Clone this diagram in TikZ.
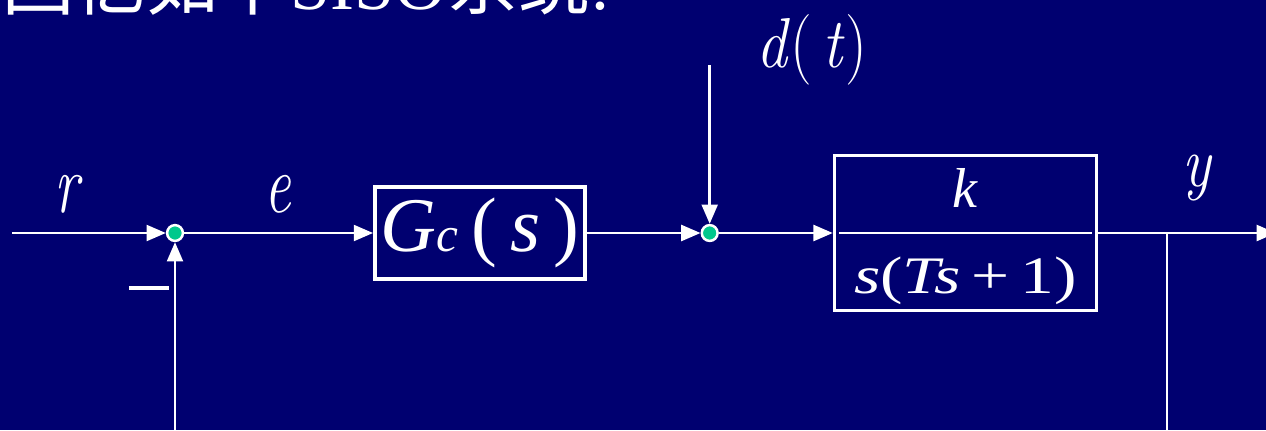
\documentclass[tikz,border=0pt]{standalone}
\usepackage{graphicx}
\usepackage{fontspec}
\newfontfamily\cjk{Noto Sans CJK SC}
\newfontfamily\tnr{Liberation Serif}
\usetikzlibrary{positioning, arrows.meta}
\definecolor{slidebg}{RGB}{0,0,112}
\definecolor{sumgreen}{RGB}{0,200,140}

\begin{document}
\begin{tikzpicture}[
		x=0.02cm, y=-0.02cm,
		% Define styles
		wire/.style={white, line width=1.6pt},
		arr/.style={wire, -{Triangle[length=11pt,width=9pt]}},
		sumpt/.style={circle, draw=white, line width=1.4pt, fill=sumgreen, minimum size=9pt, inner sep=0pt},
		block/.style={draw=white, line width=2pt, inner sep=0pt},
		txt/.style={text=white, inner sep=0pt},
		sig/.style={txt, anchor=base, font=\fontsize{32}{36}\selectfont\itshape}
		]
		
		% 0. Slide background
		\fill[slidebg] (0,0) rectangle (1266,430);
		\useasboundingbox (0,0) rectangle (1266,430);
		
		% 1. Title (cut by the page)
		\node[txt, anchor=base west, font=\fontsize{41}{46}\selectfont] (title) at (2,9)
		{{\cjk 回忆如下}{\tnr SISO}{\cjk 系统}{\tnr :}};
		
		% 2. Forward path
		\node[sumpt] (sum1) at (175,233) {};
		\node[block, minimum width=4.2cm, minimum height=1.84cm, right=3.78cm of sum1,
		txt, font=\tnr\fontsize{44}{48}\selectfont] (gc)
		{\textit{G}{\fontsize{28}{30}\selectfont\textit{c}}\,(\,\textit{s}\,)};
		\node[sumpt, right=2.28cm of gc] (sum2) {};
		\node[block, minimum width=5.24cm, minimum height=3.1cm, right=2.28cm of sum2] (plant) {};
		
		% fraction inside the plant block
		\draw[wire] ([xshift=3.5pt]plant.west) -- ([xshift=-3.5pt]plant.east);
		\node[txt, anchor=base, font=\tnr\fontsize{32}{36}\selectfont] (num) at ([yshift=0.52cm]plant.center) {\textit{k}};
		\node[txt, anchor=base, font=\tnr\fontsize{30}{34}\selectfont] (den) at ([yshift=-1.22cm]plant.center)
		{\scalebox{1.28}[1]{\textit{s}(\textit{Ts}\,+\,1)}};
		
		% 3. Free ends
		\coordinate (rin) at (12,233);
		\coordinate (dtop) at (sum2 |- 0,65);
		\coordinate (yout) at (1276,233);
		\coordinate (ybr) at (1167,233);
		\coordinate (ybot) at (1167,432);
		\coordinate (fbot) at (sum1 |- 0,432);
		
		% 4. Signal labels
		\node[sig] (rlab) at (67,212) {\scalebox{1.05}[1.5]{r}};
		\node[sig] (elab) at (278,212) {\scalebox{1.05}[1.5]{e}};
		\node[sig, font=\fontsize{35}{40}\selectfont] (dlab) at (812,67) {\scalebox{1}[1.15]{\textit{d}(\,\textit{t})}};
		\node[sig, font=\fontsize{34}{40}\selectfont\itshape] (ylab) at (1197,186) {\scalebox{1}[1.2]{y}};
		\node[txt] (minus) at (149,288) {\color{white}\rule{23pt}{2.3pt}};
		
		% Connections
		\draw[arr] (rin) -- (sum1);
		\draw[arr] (sum1) -- (gc);
		\draw[arr] (gc) -- (sum2);
		\draw[arr] (dtop) -- (sum2);
		\draw[arr] (sum2) -- (plant);
		\draw[arr] (plant) -- (yout);
		\draw[wire] (ybr) -- (ybot);
		\draw[arr] (fbot) -- (sum1);
		
	\end{tikzpicture}
\end{document}
